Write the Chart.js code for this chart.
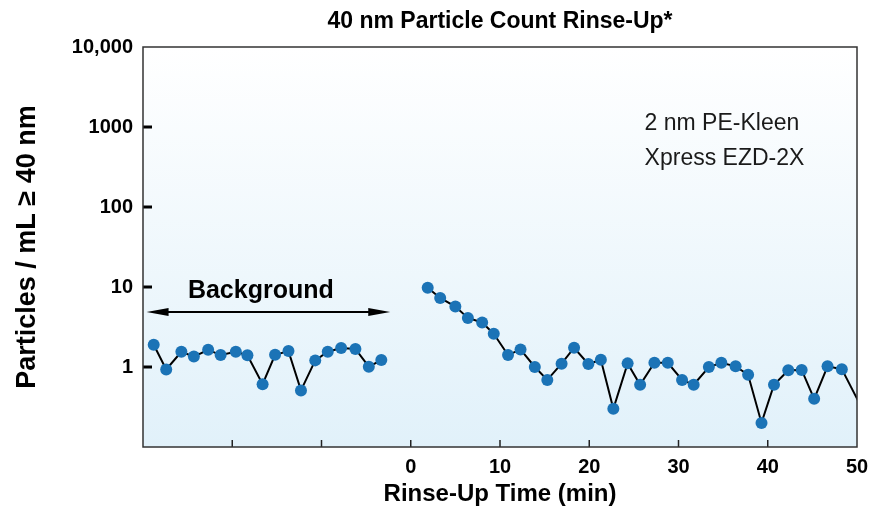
<!DOCTYPE html>
<html>
<head>
<meta charset="utf-8">
<script src="https://cdn.jsdelivr.net/npm/chart.js@4.4.0/dist/chart.umd.min.js"></script>
<style>
  html, body { margin: 0; padding: 0; background: #fff; }
  #wrap { width: 869px; height: 507px; }
</style>
</head>
<body>
<div id="wrap"><canvas id="grafica"></canvas></div>
<script>
// background readings (before rinse-up, minutes < 0)
const bgTime  = [-28.8, -27.4, -25.7, -24.3, -22.7, -21.3, -19.6, -18.3, -16.6, -15.2, -13.7, -12.3, -10.7, -9.3, -7.8, -6.2, -4.7, -3.3];
const bgCount = [1.90, 0.93, 1.55, 1.35, 1.64, 1.41, 1.55, 1.40, 0.61, 1.42, 1.58, 0.51, 1.21, 1.55, 1.73, 1.68, 1.01, 1.22];

// rinse-up readings
const rinseTime  = [1.9, 3.3, 5.0, 6.4, 8.0, 9.3, 10.9, 12.3, 13.9, 15.3, 16.9, 18.3, 19.9, 21.3, 22.7, 24.3, 25.7, 27.3, 28.8, 30.4, 31.7, 33.4, 34.8, 36.4, 37.8, 39.3, 40.7, 42.3, 43.8, 45.2, 46.7, 48.3, 51.5];
const rinseCount = [9.8, 7.3, 5.7, 4.1, 3.6, 2.6, 1.41, 1.66, 1.00, 0.69, 1.10, 1.74, 1.09, 1.23, 0.30, 1.11, 0.60, 1.13, 1.13, 0.69, 0.60, 1.00, 1.13, 1.02, 0.80, 0.20, 0.60, 0.91, 0.92, 0.40, 1.02, 0.94, 0.19];

const yTicks = [1, 10, 100, 1000, 10000];
const yTickLabels = ['1', '10', '100', '1000', '10,000'];
const xTicks = [-20, -10, 0, 10, 20, 30, 40, 50];

const fuente = '"Liberation Sans", Arial, sans-serif';

function puntos(xs, ys) {
  let p = [];
  for (let i = 0; i < xs.length; i++) {
    p.push({x: xs[i], y: ys[i]});
  }
  return p;
}

const fondo = {
  id: 'fondo',
  beforeDatasetsDraw(chart) {
    const {ctx, chartArea: a} = chart;
    const g = ctx.createLinearGradient(0, a.top, 0, a.bottom);
    g.addColorStop(0, '#ffffff');
    g.addColorStop(1, '#e1f1fa');
    ctx.save();
    ctx.fillStyle = g;
    ctx.fillRect(a.left, a.top, a.right - a.left, a.bottom - a.top);

    const xs = chart.scales.x, ys = chart.scales.y;
    // y tick marks (inside, thick)
    ctx.strokeStyle = '#000';
    ctx.lineWidth = 3;
    yTicks.slice(0, 4).forEach(v => {
      const py = ys.getPixelForValue(v);
      ctx.beginPath();
      ctx.moveTo(a.left, py);
      ctx.lineTo(a.left + 9, py);
      ctx.stroke();
    });
    // x tick marks (inside, thin)
    ctx.lineWidth = 1.5;
    ctx.strokeStyle = '#222';
    xTicks.slice(0, 7).forEach(v => {
      const px = xs.getPixelForValue(v);
      ctx.beginPath();
      ctx.moveTo(px, a.bottom);
      ctx.lineTo(px, a.bottom - 7);
      ctx.stroke();
    });

    // Background arrow
    const ay = ys.getPixelForValue(4.87);
    const x1 = xs.getPixelForValue(-29.6), x2 = xs.getPixelForValue(-2.3);
    ctx.strokeStyle = '#000';
    ctx.fillStyle = '#000';
    ctx.lineWidth = 2;
    ctx.beginPath();
    ctx.moveTo(x1 + 10, ay);
    ctx.lineTo(x2 - 10, ay);
    ctx.stroke();
    ctx.beginPath();
    ctx.moveTo(x1, ay); ctx.lineTo(x1 + 22, ay - 4); ctx.lineTo(x1 + 22, ay + 4); ctx.closePath();
    ctx.fill();
    ctx.beginPath();
    ctx.moveTo(x2, ay); ctx.lineTo(x2 - 22, ay - 4); ctx.lineTo(x2 - 22, ay + 4); ctx.closePath();
    ctx.fill();

    ctx.font = 'bold 25px ' + fuente;
    ctx.textAlign = 'center';
    ctx.textBaseline = 'middle';
    ctx.fillText('Background', xs.getPixelForValue(-16.8), ys.getPixelForValue(9.0));

    ctx.font = '23px ' + fuente;
    ctx.fillStyle = '#1a1a1a';
    ctx.textAlign = 'left';
    ctx.fillText('2 nm PE-Kleen', xs.getPixelForValue(26.2), ys.getPixelForValue(1100));
    ctx.fillText('Xpress EZD-2X', xs.getPixelForValue(26.2), ys.getPixelForValue(400));
    ctx.restore();
  },
  afterDraw(chart) {
    const {ctx, chartArea: a} = chart;
    ctx.save();
    ctx.strokeStyle = '#333';
    ctx.lineWidth = 1.5;
    ctx.strokeRect(a.left, a.top, a.right - a.left, a.bottom - a.top);
    // chart title, centred over the plot area
    ctx.font = 'bold 23px ' + fuente;
    ctx.fillStyle = '#000';
    ctx.textAlign = 'center';
    ctx.textBaseline = 'middle';
    ctx.fillText('40 nm Particle Count Rinse-Up*', (a.left + a.right) / 2, 22);
    ctx.restore();
  }
};

const estilo = {
  borderColor: '#000',
  borderWidth: 2,
  backgroundColor: '#1b73b6',
  pointBackgroundColor: '#1b73b6',
  pointBorderColor: '#1b73b6',
  pointRadius: 6,
  pointBorderWidth: 0,
  tension: 0,
  clip: 0
};

const ctx = document.getElementById('grafica').getContext('2d');
const myChart = new Chart(ctx, {
  type: 'line',
  data: {
    datasets: [
      Object.assign({label: 'Background', data: puntos(bgTime, bgCount)}, estilo),
      Object.assign({label: '2 nm PE-Kleen Xpress EZD-2X', data: puntos(rinseTime, rinseCount)}, estilo)
    ]
  },
  options: {
    responsive: true,
    maintainAspectRatio: false,
    animation: false,
    layout: { padding: { top: 47, right: 12, left: 0, bottom: 0 } },
    plugins: {
      legend: { display: false },
      tooltip: { enabled: false },
      title: { display: false }
    },
    scales: {
      x: {
        type: 'linear',
        min: -30,
        max: 50,
        afterFit: s => { s.height = 60; s.paddingLeft = 0; s.paddingRight = 0; },
        afterBuildTicks: s => { s.ticks = xTicks.map(v => ({value: v})); },
        grid: { display: false, drawTicks: false },
        border: { display: false },
        ticks: {
          padding: 8,
          color: '#000',
          maxRotation: 0,
          font: { family: fuente, size: 20, weight: 'bold' },
          callback: v => v >= 0 ? String(v) : ''
        },
        title: {
          display: true,
          text: 'Rinse-Up Time (min)',
          color: '#000',
          padding: { top: 0, bottom: 0 },
          font: { family: fuente, size: 24, weight: 'bold', lineHeight: 1.05 }
        }
      },
      y: {
        type: 'logarithmic',
        min: 0.1,
        max: 10000,
        afterFit: s => { s.width = 143; s.paddingTop = 0; s.paddingBottom = 0; },
        afterBuildTicks: s => { s.ticks = yTicks.map(v => ({value: v})); },
        grid: { display: false, drawTicks: false },
        border: { display: false },
        ticks: {
          padding: 10,
          color: '#000',
          font: { family: fuente, size: 20, weight: 'bold' },
          callback: v => {
            const i = yTicks.indexOf(v);
            return i >= 0 ? yTickLabels[i] : '';
          }
        },
        title: {
          display: true,
          text: 'Particles / mL ≥ 40 nm',
          color: '#000',
          padding: { top: 11, bottom: 0 },
          font: { family: fuente, size: 27, weight: 'bold' }
        }
      }
    }
  },
  plugins: [fondo]
});
</script>
</body>
</html>
